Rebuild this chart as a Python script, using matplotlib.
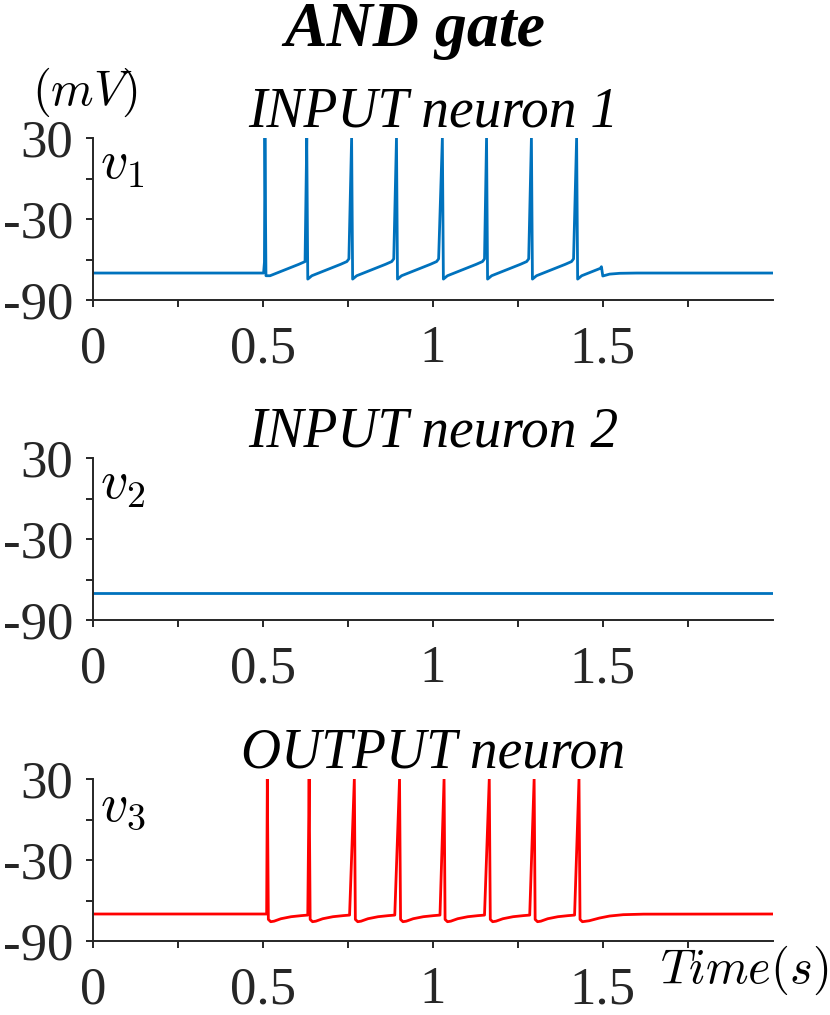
import numpy as np
import matplotlib
matplotlib.use('Agg')
import matplotlib.pyplot as plt

plt.rcParams['font.family'] = ['Liberation Serif', 'DejaVu Serif']
plt.rcParams['mathtext.fontset'] = 'cm'

# axes ticks
x_ticks = [0, 0.25, 0.5, 0.75, 1, 1.25, 1.5, 1.75]
x_tick_labels = ['0', '', '0.5', '', '1', '', '1.5', '']
y_ticks = [-90, -60, -30, 0, 30]
y_tick_labels = ['-90', '', '-30', '', '30']
t_end = 2.0
rest_v = -70.0
peak_v = 30.0

# INPUT neuron 1
spikes_1 = [0.506, 0.629, 0.761, 0.893, 1.028, 1.158, 1.290, 1.423]
reset_1 = [-72.0, -74.5, -74.5, -74.5, -74.5, -74.5, -74.5, -74.5]
pre_dt_1 = [-0.004, -0.0015]          # first spike take-off from rest
pre_v_1 = [-70.0, -62.0]
isi_dt_1 = [0.015, 0.04, 0.07, 0.10, 0.118, 0.124]   # recovery after a spike
isi_v_1 = [-72.0, -69.5, -66.5, -63.5, -61.5, -59.5]
tail_t_1 = [1.496, 1.500, 1.52, 1.55, 1.60, 2.0]
tail_v_1 = [-65.3, -72.2, -70.8, -70.2, -70.0, -70.0]

# INPUT neuron 2
t_2 = [0.0, 2.0]
v_2 = [-70.0, -70.0]

# OUTPUT neuron
spikes_3 = [0.513, 0.636, 0.769, 0.902, 1.033, 1.166, 1.298, 1.430]
pre_dt_3 = [-0.002]
pre_v_3 = [-70.0]
isi_dt_3 = [0.003, 0.01, 0.02, 0.04, 0.07, 0.10, 0.119]
isi_v_3 = [-74.0, -75.7, -75.3, -73.5, -72.0, -71.2, -70.8]
tail_t_3 = [1.433, 1.44, 1.46, 1.49, 1.52, 1.56, 1.62, 2.0]
tail_v_3 = [-74.0, -75.7, -75.0, -73.0, -71.5, -70.5, -70.1, -70.0]


def build_trace(spikes, resets, isi_dt, isi_v, tail_t, tail_v, pre_dt, pre_v):
    t = [0.0] + [spikes[0] + d for d in pre_dt]
    v = [rest_v] + list(pre_v)
    for i, ts in enumerate(spikes):
        t.append(ts)
        v.append(peak_v)
        if resets is not None:
            t.append(ts + 0.003)
            v.append(resets[i])
        nxt = spikes[i + 1] if i + 1 < len(spikes) else tail_t[0]
        for d, vv in zip(isi_dt, isi_v):
            if ts + d < nxt - 0.002:
                t.append(ts + d)
                v.append(vv)
    t += tail_t
    v += tail_v
    return np.array(t), np.array(v)


t_1, v_1 = build_trace(spikes_1, reset_1, isi_dt_1, isi_v_1, tail_t_1, tail_v_1, pre_dt_1, pre_v_1)
t_3, v_3 = build_trace(spikes_3, None, isi_dt_3, isi_v_3, tail_t_3, tail_v_3, pre_dt_3, pre_v_3)

dark = '#262626'
fig = plt.figure(figsize=(8.3, 10.15), dpi=100, facecolor='white')

left, width, height = 0.112, 0.819, 0.1596
bottoms = [0.7044, 0.389, 0.0729]
titles = ['INPUT neuron 1', 'INPUT neuron 2', 'OUTPUT neuron']
names = ['$v_1$', '$v_2$', '$v_3$']
traces = [(t_1, v_1, '#0072BD'), (np.array(t_2), np.array(v_2), '#0072BD'), (t_3, v_3, '#FF0000')]

axes = []
for b, title, name, (tt, vv, col) in zip(bottoms, titles, names, traces):
    ax = fig.add_axes([left, b, width, height])
    ax.plot(tt, vv, color=col, linewidth=2.0)
    ax.set_xlim(0, t_end)
    ax.set_ylim(-90, 30)
    ax.set_xticks(x_ticks)
    ax.set_xticklabels(x_tick_labels)
    ax.set_yticks(y_ticks)
    ax.set_yticklabels(y_tick_labels)
    for s in ['top', 'right']:
        ax.spines[s].set_visible(False)
    for s in ['left', 'bottom']:
        ax.spines[s].set_linewidth(1.4)
        ax.spines[s].set_color(dark)
    ax.tick_params(axis='both', direction='out', length=5, width=1.4, colors=dark,
                   labelsize=38, labelcolor=dark)
    ax.tick_params(axis='x', pad=13)
    ax.tick_params(axis='y', pad=9)
    ax.set_title(title, fontsize=40, style='italic', pad=7)
    ax.text(0.01, 0.985, name, transform=ax.transAxes, fontsize=39, va='top', ha='left')
    axes.append(ax)

fig.text(0.102, 0.909, '$(mV)$', fontsize=35, ha='center', va='center')
fig.text(0.998, 0.044, '$Time(s)$', fontsize=35, ha='right', va='center')
fig.suptitle('AND gate', fontsize=46, fontweight='bold', style='italic', y=0.998, va='top')

plt.savefig('out.png', dpi=100)
